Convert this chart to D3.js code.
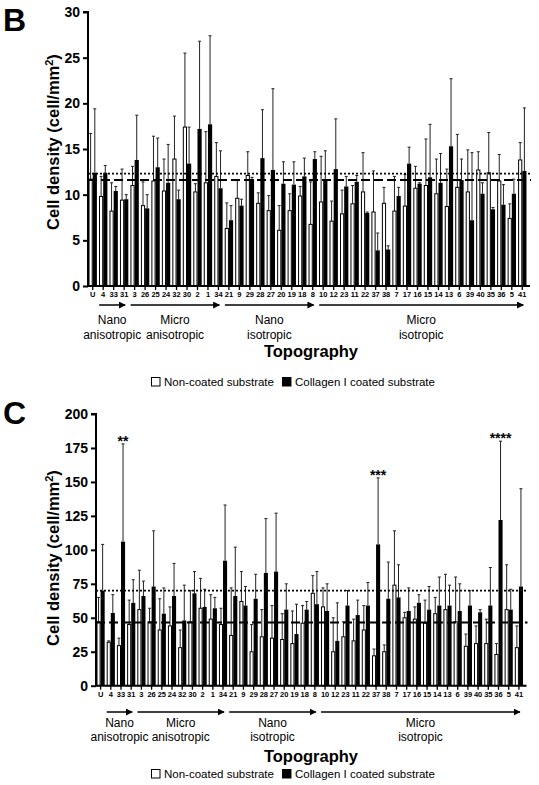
<!DOCTYPE html>
<html><head><meta charset="utf-8">
<script src="https://cdn.jsdelivr.net/npm/d3@7"></script>
<style>body{margin:0;background:#fff}svg{display:block}text{font-family:"Liberation Sans",Arial,Helvetica,sans-serif}</style>
</head><body><svg id="chart" width="539" height="785"></svg>
<script>
const categories=["U","4","33","31","3","26","25","24","32","30","2","1","34","21","9","29","28","27","20","19","18","8","10","12","23","11","22","37","38","7","17","16","15","14","13","6","39","40","35","36","5","41"];

// Panel B (cell/mm2)
const bNonMean=[11.7,9.8,8.2,9.4,11.0,8.8,11.5,10.4,13.9,17.4,10.3,11.3,12.0,6.3,9.6,12.1,9.05,8.25,6.1,8.25,9.85,6.75,9.2,7.1,7.9,9.0,10.3,8.1,9.05,8.2,8.75,10.7,11.0,10.1,8.7,10.8,10.3,12.7,12.4,11.5,7.4,13.8];
const bNonSD=[5.0,2.2,3.1,3.4,2.1,2.6,4.9,3.5,4.7,8.1,0.9,5.6,3.7,2.8,2.0,2.6,1.15,1.65,2.7,1.85,1.05,4.65,5.0,2.2,2.6,2.0,4.3,4.5,1.75,3.8,3.45,2.4,5.1,3.8,4.1,5.8,4.6,2.0,4.4,2.9,1.6,1.9];
const bColMean=[12.4,12.4,10.4,9.5,13.8,8.5,13.0,11.3,9.5,13.4,17.2,17.7,10.7,7.2,8.8,11.7,14.0,12.7,11.2,11.1,12.0,13.9,11.5,12.8,10.9,11.4,8.0,3.9,4.0,9.85,13.4,11.2,11.9,11.3,15.3,11.6,7.2,10.1,8.4,8.9,10.1,12.6];
const bColSD=[7.0,0.8,0.5,0.5,4.9,1.5,3.2,4.2,1.0,4.0,9.6,9.7,4.1,1.6,0.7,0.2,5.3,8.9,2.4,2.5,2.0,0.8,3.3,5.5,1.1,0.7,0.1,1.9,0.4,0.95,1.8,0.1,5.8,3.2,7.4,2.3,7.4,1.2,0.2,2.2,1.6,6.9];
const bTicks=[0,5,10,15,20,25,30];
const bRefLines=[{v:12.3,style:"dotted"},{v:11.6,style:"dashed"}];

// Panel C (cell/mm2)
const cNonMean=[47,32,29.5,45,56,47,41,44,28,47,57,49,45,37,62,25,36,35,34,31,46,68,58,25,36,33,41,22,25,74,50,49,46,53,56,47,29,31,31,23,56,28];
const cNonSD=[18,1,5.5,18,29,10,23,14,13,23,22,18,12,35,22,20,20,24,19,24,13,13,14,25,11,16,18,5,5,40,4,9,17,12,26,33,9,13,18,8,33,16];
const cColMean=[70,53.5,106,61,66,73,53,66,48,68,58,57,92,66,59,64,83,84,56,38,56,60,55,33,59,52,59,104,64,65,55,61,56,59,59,55,59,54,59,122,56,73];
const cColSD=[34,13.5,72,17,11,41,19,24,26,16,13,8,41,36,14,18,40,43,19,22,6,24,20,28,11,11,17,49,27,24,17,6,17,21,15,20,11,2,28,58,15,72];
const cTicks=[0,25,50,75,100,125,150,175,200];
const cRefLines=[{v:70,style:"dotted"},{v:46.5,style:"dashed"}];
const cStars=[{cat:"33",label:"**"},{cat:"37",label:"***"},{cat:"36",label:"****"}];

const groups=[
  {lines:["Nano","anisotropic"],from:"4",to:"31"},
  {lines:["Micro","anisotropic"],from:"3",to:"34"},
  {lines:["Nano","isotropic"],from:"21",to:"8"},
  {lines:["Micro","isotropic"],from:"10",to:"41"}
];
const legendItems=[{label:"Non-coated substrate",fill:"#fff"},{label:"Collagen I coated substrate",fill:"#000"}];

const svg=d3.select("#chart");
svg.append("defs").append("marker").attr("id","ah").attr("viewBox","0 0 10 10")
  .attr("refX",9).attr("refY",5).attr("markerWidth",7).attr("markerHeight",7)
  .attr("markerUnits","userSpaceOnUse").attr("orient","auto")
  .append("path").attr("d","M0,0L10,5L0,10Z").attr("fill","#000");

function panel(o){
  const g=svg.append("g");
  const x=d3.scaleBand().domain(categories).range([o.x0,o.x1]).paddingInner(0.2).paddingOuter(0.05);
  const y=d3.scaleLinear().domain([0,o.ticks[o.ticks.length-1]]).range([o.y0,o.y1]);
  const bw=x.bandwidth()/2;
  g.append("text").attr("x",3).attr("y",o.letterY).attr("font-size",32).attr("font-weight","bold").text(o.letter);
  const rows=categories.map((c,i)=>({c,nm:o.nm[i],ns:o.ns[i],cm:o.cm[i],cs:o.cs[i]}));
  const err=(cx,top,val)=>{
    g.append("line").attr("x1",cx).attr("x2",cx).attr("y1",y(val)).attr("y2",y(top)).attr("stroke","#222").attr("stroke-width",1);
    g.append("line").attr("x1",cx-1.5).attr("x2",cx+1.5).attr("y1",y(top)).attr("y2",y(top)).attr("stroke","#222").attr("stroke-width",1);
  };
  rows.forEach(r=>{
    const xs=x(r.c);
    err(xs+bw/2,r.nm+r.ns,r.nm);
    err(xs+bw+bw/2,r.cm+r.cs,r.cm);
    g.append("rect").attr("x",xs+0.5).attr("y",y(r.nm)).attr("width",bw-1).attr("height",y(0)-y(r.nm))
      .attr("fill","#fff").attr("stroke","#000").attr("stroke-width",1);
    g.append("rect").attr("x",xs+bw).attr("y",y(r.cm)).attr("width",bw).attr("height",y(0)-y(r.cm)).attr("fill","#000");
  });
  o.ref.forEach(l=>{
    g.append("line").attr("x1",o.x0).attr("x2",o.x1+4).attr("y1",y(l.v)).attr("y2",y(l.v))
      .attr("stroke","#000").attr("stroke-width",l.style==="dotted"?1.6:2)
      .attr("stroke-dasharray",l.style==="dotted"?"2,2":"9,4");
  });
  const ya=g.append("g").attr("transform",`translate(${o.x0},0)`).call(d3.axisLeft(y).tickValues(o.ticks).tickSize(5).tickPadding(3));
  ya.select(".domain").attr("stroke-width",2).attr("d",`M-5,${y(o.ticks[o.ticks.length-1])}H0V${o.y0}`);
  ya.selectAll(".tick line").attr("stroke-width",2);
  ya.selectAll("text").attr("font-size",14).attr("font-weight","bold").attr("fill","#000").attr("font-family","Liberation Sans, Arial");
  const xa=g.append("g").attr("transform",`translate(0,${o.y0})`).call(d3.axisBottom(x).tickSize(4).tickPadding(2));
  xa.select(".domain").attr("stroke-width",2).attr("d",`M${o.x0},0H${o.x1+3}`);
  xa.selectAll(".tick line").attr("stroke-width",1.3);
  xa.selectAll("text").attr("font-size",7.5).attr("font-weight","bold").attr("fill","#000").attr("font-family","Liberation Sans, Arial");
  g.append("text").attr("transform",`translate(${o.titleX},${o.titleY}) rotate(-90)`).attr("text-anchor","middle")
    .attr("font-size",16.5).attr("font-weight","bold")
    .html('Cell density (cell/mm<tspan dy="-6" font-size="11">2</tspan><tspan dy="6">)</tspan>');
  groups.forEach(gr=>{
    const a=x(gr.from)+x.bandwidth()/2-4, b=x(gr.to)+x.bandwidth()/2+1;
    g.append("line").attr("x1",a).attr("x2",b).attr("y1",o.arrowY).attr("y2",o.arrowY).attr("stroke","#000").attr("stroke-width",1.5).attr("marker-end","url(#ah)");
    gr.lines.forEach((t,k)=>g.append("text").attr("x",(a+b)/2).attr("y",o.groupY+k*o.groupGap).attr("text-anchor","middle").attr("font-size",12).text(t));
  });
  g.append("text").attr("x",o.topoX).attr("y",o.topoY).attr("text-anchor","middle").attr("font-size",16.5).attr("font-weight","bold").text("Topography");
  let lx=151;
  legendItems.forEach(it=>{
    g.append("rect").attr("x",lx+0.5).attr("y",o.legY-8.5).attr("width",8.5).attr("height",8.5).attr("fill",it.fill).attr("stroke","#000").attr("stroke-width",1);
    const t=g.append("text").attr("x",lx+13).attr("y",o.legY).attr("font-size",11.5).text(it.label);
    lx+=t.node().getComputedTextLength()+21;
  });
  (o.stars||[]).forEach(s=>{
    const i=categories.indexOf(s.cat);
    g.append("text").attr("x",x(s.cat)+bw*1.5).attr("y",y(o.cm[i]+o.cs[i])+2).attr("text-anchor","middle").attr("font-size",14).attr("font-weight","bold").text(s.label);
  });
}

panel({letter:"B",letterY:31,x0:88,x1:527,y0:286,y1:12,ticks:bTicks,nm:bNonMean,ns:bNonSD,cm:bColMean,cs:bColSD,ref:bRefLines,
  titleX:59,titleY:142,arrowY:305,groupY:324,groupGap:14.5,topoX:311,topoY:357,legY:386});
panel({letter:"C",letterY:424,x0:96,x1:523.5,y0:685.7,y1:414,ticks:cTicks,nm:cNonMean,ns:cNonSD,cm:cColMean,cs:cColSD,ref:cRefLines,stars:cStars,
  titleX:59,titleY:558,arrowY:712,groupY:727,groupGap:13.5,topoX:311,topoY:762,legY:778});
</script></body></html>
